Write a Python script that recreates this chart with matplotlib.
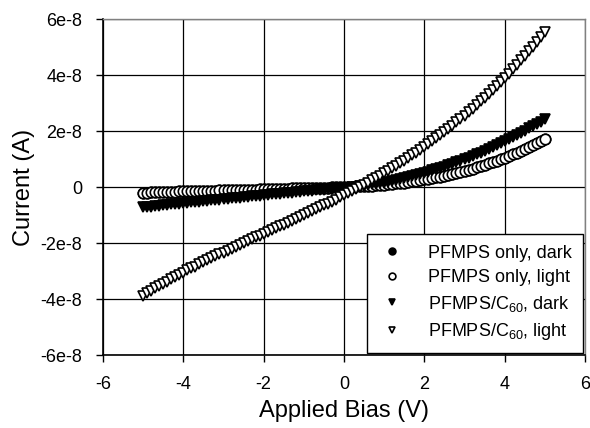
import numpy as np
import matplotlib
matplotlib.use("Agg")
import matplotlib.pyplot as plt

plt.rcParams["font.family"] = ["Liberation Sans", "DejaVu Sans"]
plt.rcParams["mathtext.fontset"] = "custom"
plt.rcParams["mathtext.rm"] = "Liberation Sans"
plt.rcParams["mathtext.it"] = "Liberation Sans"

# bias sweep, -5 V .. 5 V in 0.1 V steps
bias = np.arange(-50, 51) / 10.0

# currents in units of 1e-8 A
pfmps_light = [
    -0.20, -0.20, -0.19, -0.19, -0.18, -0.18, -0.18, -0.17, -0.17, -0.16,
    -0.16, -0.16, -0.15, -0.15, -0.14, -0.14, -0.14, -0.13, -0.13, -0.12,
    -0.12, -0.12, -0.11, -0.11, -0.10, -0.10, -0.10, -0.09, -0.09, -0.08,
    -0.08, -0.08, -0.07, -0.07, -0.06, -0.06, -0.06, -0.05, -0.05, -0.04,
    -0.04, -0.04, -0.03, -0.03, -0.02, -0.02, -0.02, -0.01, -0.01, 0.00,
    0.00,
    0.00, 0.01, 0.02, 0.02, 0.03, 0.04, 0.05, 0.06, 0.07, 0.08,
    0.10, 0.11, 0.13, 0.14, 0.16, 0.18, 0.20, 0.22, 0.24, 0.27,
    0.29, 0.32, 0.35, 0.37, 0.41, 0.44, 0.47, 0.51, 0.54, 0.58,
    0.62, 0.66, 0.70, 0.75, 0.79, 0.84, 0.89, 0.94, 1.00, 1.05,
    1.11, 1.17, 1.23, 1.29, 1.36, 1.42, 1.49, 1.56, 1.64, 1.71,
]
# dark curve sits hidden under the light one
pfmps_dark = list(pfmps_light)

c60_dark = [
    -0.73, -0.71, -0.70, -0.68, -0.67, -0.65, -0.64, -0.62, -0.61, -0.59,
    -0.58, -0.56, -0.55, -0.53, -0.52, -0.50, -0.49, -0.48, -0.46, -0.45,
    -0.43, -0.42, -0.40, -0.39, -0.38, -0.36, -0.35, -0.33, -0.32, -0.31,
    -0.29, -0.28, -0.26, -0.25, -0.24, -0.22, -0.21, -0.20, -0.18, -0.17,
    -0.16, -0.14, -0.13, -0.12, -0.11, -0.09, -0.08, -0.07, -0.06, -0.04,
    -0.03,
    -0.02, 0.00, 0.01, 0.03, 0.05, 0.07, 0.09, 0.11, 0.13, 0.16,
    0.19, 0.22, 0.25, 0.28, 0.31, 0.35, 0.38, 0.42, 0.46, 0.50,
    0.54, 0.59, 0.63, 0.68, 0.73, 0.78, 0.83, 0.88, 0.93, 0.99,
    1.05, 1.11, 1.17, 1.23, 1.29, 1.36, 1.42, 1.49, 1.56, 1.63,
    1.70, 1.78, 1.85, 1.93, 2.01, 2.09, 2.17, 2.25, 2.33, 2.42,
]

c60_light = [
    -3.88, -3.80, -3.71, -3.62, -3.54, -3.46, -3.38, -3.29, -3.22, -3.14,
    -3.06, -2.98, -2.91, -2.84, -2.76, -2.69, -2.62, -2.55, -2.48, -2.41,
    -2.34, -2.27, -2.20, -2.13, -2.07, -2.00, -1.93, -1.87, -1.80, -1.74,
    -1.67, -1.60, -1.54, -1.47, -1.41, -1.34, -1.27, -1.21, -1.14, -1.07,
    -1.01, -0.94, -0.87, -0.80, -0.73, -0.66, -0.59, -0.52, -0.45, -0.37,
    -0.30,
    -0.23, -0.15, -0.07, 0.00, 0.08, 0.16, 0.24, 0.33, 0.41, 0.50,
    0.58, 0.67, 0.76, 0.85, 0.94, 1.04, 1.13, 1.23, 1.33, 1.43,
    1.53, 1.64, 1.74, 1.85, 1.96, 2.08, 2.19, 2.31, 2.43, 2.55,
    2.67, 2.80, 2.93, 3.06, 3.19, 3.33, 3.47, 3.61, 3.75, 3.90,
    4.05, 4.20, 4.36, 4.52, 4.68, 4.84, 5.01, 5.18, 5.36, 5.53,
]

labels = ["PFMPS only, dark", "PFMPS only, light",
          "PFMPS/C$_{60}$, dark", "PFMPS/C$_{60}$, light"]

xticks = [-6, -4, -2, 0, 2, 4, 6]
xticklabels = ["-6", "-4", "-2", "0", "2", "4", "6"]
yticks = [6e-8, 4e-8, 2e-8, 0, -2e-8, -4e-8, -6e-8]
yticklabels = ["6e-8", "4e-8", "2e-8", "0", "-2e-8", "-4e-8", "-6e-8"]

fig = plt.figure(figsize=(5.9, 4.28), dpi=100)
ax = fig.add_axes([103/590, 1 - 355/428, 482/590, 336/428])

scale = 1e-8
mk = dict(ms=7.5, mew=1.2, mec="black", linestyle="none")
ax.plot(bias, np.array(pfmps_dark) * scale, "o", mfc="black", label=labels[0], **mk)
ax.plot(bias, np.array(pfmps_light) * scale, "o", mfc="white", label=labels[1], **mk)
ax.plot(bias, np.array(c60_dark) * scale, "v", mfc="black", label=labels[2], **mk)
ax.plot(bias, np.array(c60_light) * scale, "v", mfc="white", label=labels[3], **mk)

ax.set_xlim(-6, 6)
ax.set_ylim(-6e-8, 6e-8)
ax.set_xticks(xticks)
ax.set_xticklabels(xticklabels)
ax.set_yticks(yticks)
ax.set_yticklabels(yticklabels)
ax.tick_params(direction="out", length=5, width=1, labelsize=13)
ax.tick_params(axis="x", pad=10)
ax.tick_params(axis="y", pad=10)
ax.grid(True, color="black", linewidth=0.9)
ax.set_axisbelow(True)
for side in ["left", "bottom"]:
    ax.spines[side].set_linewidth(1.2)
for side in ["top", "right"]:
    ax.spines[side].set_color("#808080")
    ax.spines[side].set_linewidth(1.0)

ax.set_xlabel("Applied Bias (V)", fontsize=17, labelpad=5)
ax.set_ylabel("Current (A)", fontsize=17, labelpad=4)

leg = ax.legend(loc="lower right", fontsize=13, frameon=True, fancybox=False,
                edgecolor="black", framealpha=1, markerscale=0.65,
                borderaxespad=0.1, handletextpad=1.2, labelspacing=0.42,
                borderpad=0.6, handlelength=1.6)
leg.get_frame().set_linewidth(1.0)

fig.savefig("out.png", dpi=100)
